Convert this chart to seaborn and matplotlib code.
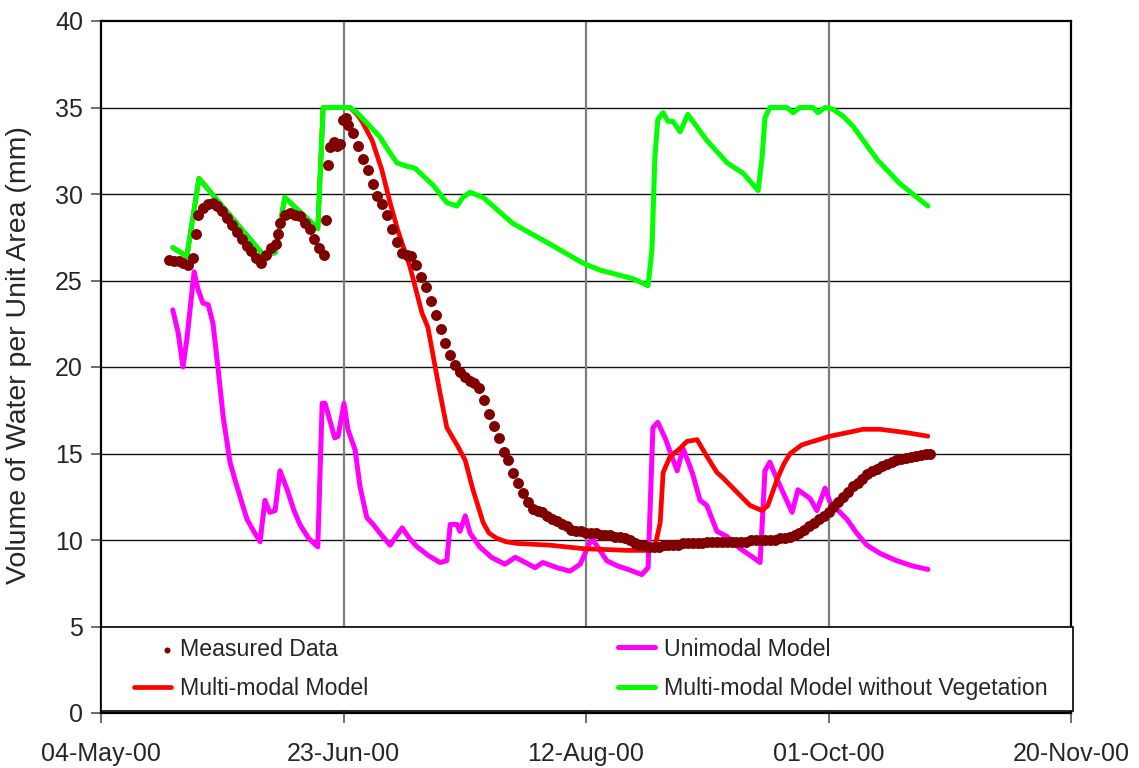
import numpy as np
import pandas as pd
import matplotlib
matplotlib.use("Agg")
import matplotlib.pyplot as plt
import matplotlib.dates as mdates
from matplotlib.patches import Rectangle
from matplotlib.legend_handler import HandlerPathCollection
import seaborn as sns

START = pd.Timestamp("2000-05-04")

# Measured soil water (days after 04-May-2000, mm)
measured_day = [14, 15, 16, 17, 18, 19, 19.5, 20, 21, 22, 23, 24, 25, 26, 27, 28, 29, 30,
                31, 32, 33, 34, 35, 36, 36.5, 37, 38, 39, 40, 41, 42, 43, 44, 45, 46, 46.4,
                46.9, 47.3, 48, 48.6, 49.2, 49.8, 50.5, 51, 52, 53, 54, 55, 56, 57, 58, 59,
                60, 61, 62, 63, 64, 65, 66, 67, 68, 69, 70, 71, 72, 73, 74, 75, 76, 77, 78,
                79, 80, 81, 82, 83, 84, 85, 86, 87, 88, 89, 90, 91, 92, 93, 94, 95, 96, 97,
                98, 99, 100, 101, 102, 103, 104, 105, 106, 107, 108, 109, 110, 111, 112, 113,
                114, 115, 116, 117, 118, 119, 120, 121, 122, 123, 124, 125, 126, 127, 128,
                129, 130, 131, 132, 133, 134, 135, 136, 137, 138, 139, 140, 141, 142, 143,
                144, 145, 146, 147, 148, 149, 150, 151, 152, 153, 154, 155, 156, 157, 158,
                159, 160, 161, 162, 163, 164, 165, 166, 167, 168, 169, 170, 171]
measured_val = [26.2, 26.1, 26.1, 26.0, 25.9, 26.3, 27.7, 28.8, 29.2, 29.4, 29.5, 29.3, 29.0,
                28.6, 28.2, 27.8, 27.4, 27.0, 26.7, 26.3, 26.0, 26.5, 26.9, 27.1, 27.7, 28.3,
                28.8, 28.9, 28.8, 28.7, 28.3, 28.0, 27.4, 26.9, 26.5, 28.5, 31.7, 32.7, 33.0,
                32.8, 32.9, 34.3, 34.4, 34.0, 33.5, 32.8, 32.0, 31.4, 30.6, 29.9, 29.4, 28.8,
                28.0, 27.2, 26.6, 26.5, 26.4, 25.9, 25.2, 24.6, 23.8, 23.0, 22.2, 21.4, 20.7,
                20.1, 19.7, 19.4, 19.2, 19.1, 18.8, 18.1, 17.3, 16.6, 15.9, 15.1, 14.6, 13.9,
                13.3, 12.7, 12.2, 11.8, 11.7, 11.6, 11.4, 11.2, 11.1, 10.9, 10.8, 10.6, 10.5,
                10.5, 10.4, 10.4, 10.4, 10.3, 10.3, 10.3, 10.2, 10.2, 10.1, 10.0, 9.8, 9.7,
                9.7, 9.6, 9.6, 9.6, 9.7, 9.7, 9.7, 9.7, 9.8, 9.8, 9.8, 9.8, 9.8, 9.9, 9.9,
                9.9, 9.9, 9.9, 9.9, 9.9, 9.9, 9.9, 10.0, 10.0, 10.0, 10.0, 10.0, 10.0, 10.1,
                10.1, 10.2, 10.3, 10.4, 10.6, 10.8, 11.0, 11.2, 11.4, 11.6, 11.9, 12.2, 12.5,
                12.8, 13.1, 13.3, 13.5, 13.8, 14.0, 14.1, 14.3, 14.4, 14.5, 14.6, 14.7, 14.75,
                14.8, 14.85, 14.9, 14.95, 15.0]

# Unimodal model
uni_day = [14.8, 15.9, 16.9, 17.7, 19.2, 20.0, 21.0, 22.1, 23.1, 24.1, 25.2, 26.6, 27.6,
           29.0, 30.1, 31.5, 32.8, 33.8, 34.8, 35.9, 36.9, 38.4, 39.8, 41.0, 42.8, 44.7,
           45.6, 46.2, 48.2, 48.9, 50.1, 50.9, 52.4, 53.4, 54.8, 56.1, 57.8, 59.6, 62.1,
           63.6, 65.2, 67.5, 69.9, 71.3, 72.0, 73.4, 74.0, 75.1, 76.1, 78.1, 80.5, 83.3,
           85.4, 87.5, 89.5, 91.1, 94.0, 96.7, 98.8, 101.2, 104.3, 106.5, 108.7, 111.5,
           112.8, 113.8, 114.8, 116.3, 118.8, 120.0, 121.9, 123.5, 124.9, 127.0, 129.1,
           131.8, 133.9, 135.9, 136.9, 137.9, 139.4, 142.5, 143.7, 146.2, 147.6, 149.3,
           150.3, 152.0, 153.8, 155.8, 157.9, 160.8, 164.1, 167.3, 170.5]
uni_val = [23.3, 22.0, 20.0, 21.6, 25.5, 24.5, 23.7, 23.6, 22.5, 20.0, 17.1, 14.5, 13.5,
           12.2, 11.2, 10.5, 9.9, 12.3, 11.6, 11.7, 14.0, 12.9, 11.7, 10.9, 10.1, 9.6,
           17.9, 17.9, 15.9, 16.0, 17.9, 16.4, 15.2, 13.1, 11.3, 10.9, 10.3, 9.7, 10.7,
           10.1, 9.6, 9.1, 8.7, 8.8, 10.9, 10.9, 10.5, 11.4, 10.4, 9.6, 9.0, 8.6,
           9.0, 8.7, 8.4, 8.7, 8.4, 8.2, 8.6, 10.1, 8.8, 8.5, 8.3, 8.0,
           8.4, 16.5, 16.8, 15.9, 14.0, 15.3, 13.9, 12.3, 12.0, 10.5, 10.2,
           9.5, 9.1, 8.7, 14.0, 14.5, 13.5, 11.6, 12.9, 12.4, 11.7, 13.0,
           12.2, 11.7, 11.2, 10.4, 9.7, 9.2, 8.8, 8.5, 8.3]

# Multi-modal model
multi_day = [14.8, 17.7, 20.2, 33.4, 35.9, 37.9, 44.7, 45.8, 50.7, 51.3, 52.8, 53.8, 55.9,
             57.9, 59.6, 61.2, 63.7, 66.2, 67.4, 68.9, 69.9, 71.3, 73.6, 75.1, 76.7, 78.8,
             80.0, 81.6, 83.5, 85.8, 92.6, 99.4, 108.5, 113.2, 114.2, 115.3, 115.9, 117.3,
             119.4, 120.8, 122.9, 125.0, 127.0, 128.2, 130.3, 133.8, 136.3, 137.5, 139.4,
             140.8, 142.1, 144.5, 146.8, 150.3, 153.8, 157.1, 160.6, 166.2, 170.5]
multi_val = [26.9, 26.4, 30.9, 26.5, 26.6, 29.8, 28.0, 35.0, 35.0, 35.0, 34.6, 34.2, 33.1,
             31.4, 29.5, 27.9, 25.8, 23.1, 22.3, 20.0, 18.5, 16.5, 15.4, 14.6, 12.9, 11.0,
             10.4, 10.1, 9.9, 9.8, 9.7, 9.5, 9.4, 9.4, 9.6, 11.0, 13.9, 14.8,
             15.3, 15.7, 15.8, 14.8, 13.9, 13.6, 13.0, 12.0, 11.7, 12.0, 13.5,
             14.4, 15.0, 15.5, 15.7, 16.0, 16.2, 16.4, 16.4, 16.2, 16.0]

# Multi-modal model without vegetation
noveg_day = [14.8, 17.7, 20.2, 33.4, 35.9, 37.9, 44.7, 45.8, 50.7, 51.3, 52.8, 55.5, 57.5,
             59.3, 61.0, 63.1, 64.7, 68.5, 71.3, 73.4, 74.6, 76.1, 78.8, 84.9, 92.6, 99.4,
             102.9, 109.7, 112.8, 113.6, 114.2, 114.8, 115.9, 116.9, 117.9, 119.4, 121.0,
             124.9, 129.1, 132.4, 135.5, 136.3, 136.9, 137.9, 141.4, 142.7, 144.1, 146.8,
             147.8, 149.3, 150.9, 153.0, 155.1, 160.0, 164.7, 170.5]
noveg_val = [26.9, 26.4, 30.9, 26.5, 26.6, 29.8, 28.0, 35.0, 35.0, 35.0, 34.7, 33.9, 33.3,
             32.5, 31.8, 31.6, 31.5, 30.5, 29.5, 29.3, 29.8, 30.1, 29.8, 28.3, 27.1, 26.0,
             25.6, 25.1, 24.7, 26.8, 32.1, 34.3, 34.7, 34.2, 34.2, 33.6, 34.6,
             33.1, 31.8, 31.2, 30.2, 32.1, 34.4, 35.0, 35.0, 34.7, 35.0, 35.0,
             34.7, 35.0, 34.9, 34.5, 33.9, 32.0, 30.6, 29.3]

tick_days = [0, 50, 100, 150, 200]


def to_dates(days):
    return START + pd.to_timedelta(np.asarray(days, dtype=float), unit="D")


class RightDotHandler(HandlerPathCollection):
    """Place the single legend marker at the right end of the handle."""

    def get_xdata(self, legend, xdescent, ydescent, width, height, fontsize):
        x = [-xdescent + width - 0.15 * fontsize]
        return x, x


measured = pd.DataFrame({"date": to_dates(measured_day), "mm": measured_val})
uni = pd.DataFrame({"date": to_dates(uni_day), "mm": uni_val})
multi = pd.DataFrame({"date": to_dates(multi_day), "mm": multi_val})
noveg = pd.DataFrame({"date": to_dates(noveg_day), "mm": noveg_val})

sns.set_theme(style="white")
plt.rcParams["font.family"] = ["Liberation Sans", "DejaVu Sans"]

fig = plt.figure(figsize=(11.39, 7.68), dpi=100)
ax = fig.add_axes([101 / 1139, 1 - 713 / 768, (1071 - 101) / 1139, (713 - 21) / 768])

sns.lineplot(data=uni, x="date", y="mm", ax=ax, color="#FF00FF", lw=3.6,
             estimator=None, sort=False, label="Unimodal Model", zorder=3)
sns.lineplot(data=multi, x="date", y="mm", ax=ax, color="#FF0000", lw=3.4,
             estimator=None, sort=False, label="Multi-modal Model", zorder=4)
sns.lineplot(data=noveg, x="date", y="mm", ax=ax, color="#00FF00", lw=3.6,
             estimator=None, sort=False, label="Multi-modal Model without Vegetation",
             zorder=5)
sns.scatterplot(data=measured, x="date", y="mm", ax=ax, color="#800000", s=62,
                linewidth=0, label="Measured Data", zorder=6)

ticks = to_dates(tick_days)
ax.set_xlim(ticks[0], ticks[-1])
ax.set_ylim(0, 40)
ax.set_xticks(ticks)
ax.xaxis.set_major_formatter(mdates.DateFormatter("%d-%b-%y"))
ax.set_yticks(np.arange(0, 41, 5))

ax.grid(False)
for y in np.arange(5, 40, 5):
    ax.axhline(y, color="#111111", lw=1.0, zorder=1)
for t in ticks[1:-1]:
    ax.axvline(t, color="#7f7f7f", lw=1.6, zorder=1)

for s in ax.spines.values():
    s.set_color("black")
    s.set_linewidth(1.6)

ax.tick_params(axis="both", which="major", direction="out", length=7, width=1.2,
               color="#555555", labelsize=18, bottom=True, left=True)
ax.tick_params(axis="x", pad=14)
ax.tick_params(axis="y", pad=6)
ax.set_xlabel("")
ax.set_ylabel("Volume of Water per Unit Area (mm)", fontsize=20.5, labelpad=2)
ax.yaxis.set_label_coords(-0.071, 0.517)

# Legend panel across the bottom band of the plot
panel = Rectangle((0.0, 0.003), 1.002, 0.122, transform=ax.transAxes,
                  facecolor="white", edgecolor="black", lw=1.2, zorder=9,
                  clip_on=False)
ax.add_patch(panel)

handles, labels = ax.get_legend_handles_labels()
order = ["Measured Data", "Multi-modal Model", "Unimodal Model",
         "Multi-modal Model without Vegetation"]
hmap = dict(zip(labels, handles))
leg = ax.legend([hmap[k] for k in order], order, ncol=2, mode="expand",
                bbox_to_anchor=(0.029, 0.003, 0.952, 0.122), loc="center",
                fontsize=16.7, frameon=False, handlelength=1.6,
                handletextpad=0.4, borderaxespad=0, borderpad=0.2, labelspacing=0.7,
                markerscale=0.55, columnspacing=1.0,
                handler_map={type(hmap["Measured Data"]): RightDotHandler()})
leg.set_zorder(10)

fig.savefig("out.png", dpi=100, facecolor="white")
